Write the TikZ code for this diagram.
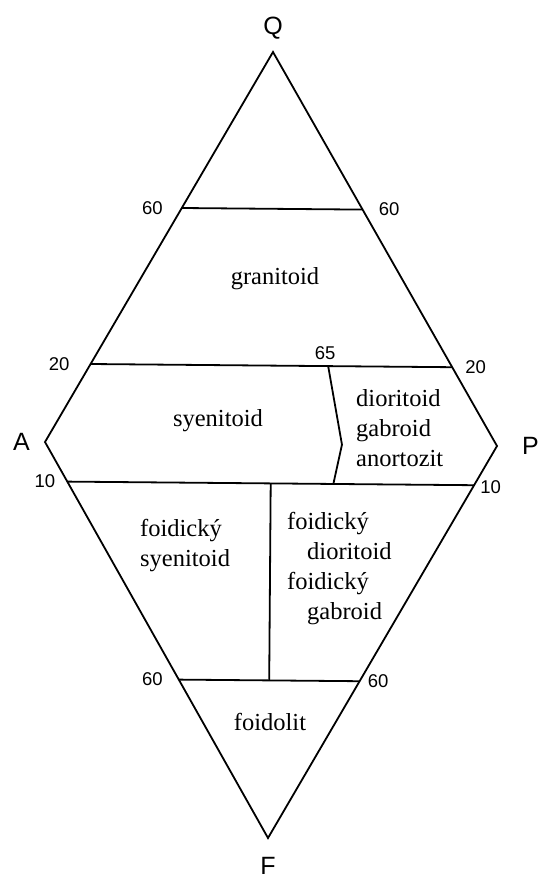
\documentclass[tikz,border=0pt]{standalone}
\usepackage{fontspec}
\setmainfont{Liberation Serif}
\setsansfont{Liberation Sans}
\usepackage{tikz}
\usetikzlibrary{calc, positioning}
\tikzset{
  edge/.style={line width=1.8pt, color=black, line join=miter},
  zone/.style={font=\fontsize{24.5}{30}\selectfont, inner sep=0pt, align=left},
  tick/.style={font=\sffamily\fontsize{18.5}{18.5}\selectfont, inner sep=0pt},
  corner/.style={font=\sffamily\fontsize{25}{25}\selectfont, inner sep=0pt}
}

\begin{document}
\begin{tikzpicture}[x=1pt, y=-1pt]
  \useasboundingbox (0,0) rectangle (539,881);

  % Corners
  \coordinate (Q) at (273,52);
  \coordinate (A) at (45,442);
  \coordinate (P) at (497,446);
  \coordinate (F) at (268,838);

  % Points on the sides
  \coordinate (q60a) at ($(A)!0.6!(Q)$);
  \coordinate (q60b) at ($(P)!0.6!(Q)$);
  \coordinate (q20a) at ($(A)!0.2!(Q)$);
  \coordinate (q20b) at ($(P)!0.2!(Q)$);
  \coordinate (f10a) at ($(A)!0.1!(F)$);
  \coordinate (f10b) at ($(P)!0.1!(F)$);
  \coordinate (f60a) at ($(A)!0.6!(F)$);
  \coordinate (f60b) at ($(P)!0.6!(F)$);

  % Inner points
  \coordinate (m20) at ($(q20a)!0.657!(q20b)$);
  \coordinate (m0) at ($(A)!0.657!(P)$);
  \coordinate (m10) at ($(f10a)!0.654!(f10b)$);
  \coordinate (h10) at ($(f10a)!0.5!(f10b)$);
  \coordinate (h60) at ($(f60a)!0.5!(f60b)$);

  % Outline and field borders
  \draw[edge] (Q) -- (P) -- (F) -- (A) -- cycle;
  \draw[edge] (q60a) -- (q60b);
  \draw[edge] (q20a) -- (q20b);
  \draw[edge] (f10a) -- (f10b);
  \draw[edge] (f60a) -- (f60b);
  \draw[edge] (m20) -- (m0) -- (m10);
  \draw[edge] (h10) -- (h60);

  % Corner labels
  \node[corner, above=15pt of Q, yshift=-2pt] (lQ) {Q};
  \node[corner, left=15pt of A] (lA) {A};
  \node[corner, right=25pt of P] (lP) {P};
  \node[corner, below=19pt of F] (lF) {F};

  % Tick labels
  \node[tick, left=19pt of q60a] (t60a) {60};
  \node[tick, right=16pt of q60b] (t60b) {60};
  \node[tick, left=21pt of q20a] (t20a) {20};
  \node[tick, right=13pt of q20b] (t20b) {20};
  \node[tick, above=6pt of m20, xshift=-3pt] (t65) {65};
  \node[tick, left=12pt of f10a] (t10a) {10};
  \node[tick, right=6pt of f10b, yshift=-2pt] (t10b) {10};
  \node[tick, left=16pt of f60a] (t60c) {60};
  \node[tick, right=8pt of f60b] (t60d) {60};

  % Field names
  \node[zone] (granitoid) at (275,279) {granitoid};
  \node[zone] (syenitoid) at (218,421) {syenitoid};
  \node[zone, anchor=west] (dioritoid) at (356,428) {dioritoid\\gabroid\\anortozit};
  \node[zone, anchor=west] (fsyenitoid) at (140,546) {foidický\\syenitoid};
  \node[zone, anchor=west] (fdioritoid) at (287,569)
    {foidický\\\hspace*{20pt}dioritoid\\foidický\\\hspace*{20pt}gabroid};
  \node[zone] (foidolit) at (270,722) {foidolit};

\end{tikzpicture}
\end{document}
